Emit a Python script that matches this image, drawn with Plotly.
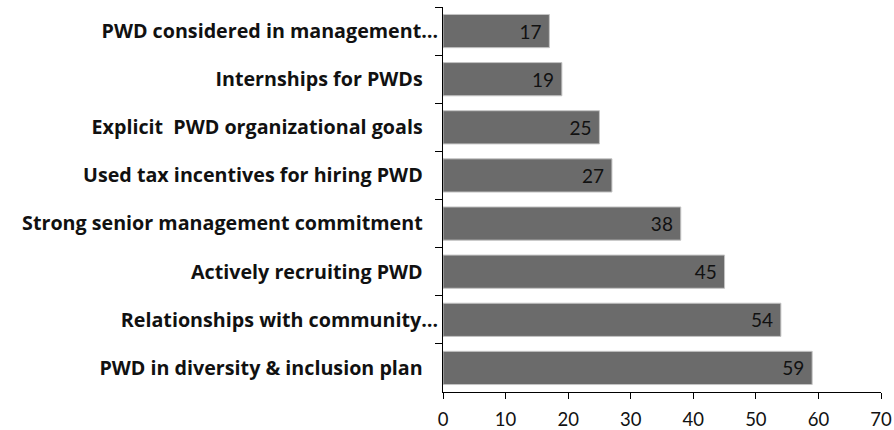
import plotly.graph_objects as go

# Share of employers (%) reporting each practice, listed top to bottom
practices = [
    "PWD considered in management…",
    "Internships for PWDs",
    "Explicit  PWD organizational goals",
    "Used tax incentives for hiring PWD",
    "Strong senior management commitment ",
    "Actively recruiting PWD",
    "Relationships with community…",
    "PWD in diversity & inclusion plan",
]
shares = [17, 19, 25, 27, 38, 45, 54, 59]
x_ticks = [0, 10, 20, 30, 40, 50, 60, 70]

NBSP = "\u00a0"
LABEL_FONT = "Open Sans"
NUMBER_FONT = "Lato"


def pad(label):
    # truncated labels sit flush against the axis, full labels keep a gap
    label = label.rstrip(" ")
    if label.endswith("…"):
        return label
    return label + NBSP * 3


fig = go.Figure(
    go.Bar(
        x=shares,
        y=[pad(p) for p in practices],
        orientation="h",
        marker=dict(color="#6b6b6b", line=dict(color="#c4c4c4", width=1)),
        text=[str(v) + NBSP for v in shares],
        textposition="inside",
        insidetextanchor="end",
        textfont=dict(family=NUMBER_FONT, size=19, color="#111111"),
        cliponaxis=False,
    )
)

fig.update_layout(
    width=894,
    height=430,
    margin=dict(l=443, r=13, t=7, b=38),
    paper_bgcolor="white",
    plot_bgcolor="white",
    bargap=0.31,
    showlegend=False,
    uniformtext=dict(mode="show", minsize=10),
)

fig.update_xaxes(
    range=[0, 70],
    tickvals=x_ticks,
    ticktext=[str(t) for t in x_ticks],
    automargin=False,
    showgrid=False,
    zeroline=False,
    showline=True,
    linecolor="black",
    linewidth=1,
    ticks="outside",
    ticklen=6,
    tickcolor="black",
    ticklabelstandoff=5,
    tickfont=dict(family=NUMBER_FONT, size=18.5, color="#111111"),
)

fig.update_yaxes(
    autorange="reversed",
    automargin=False,
    showgrid=False,
    zeroline=False,
    showline=True,
    linecolor="black",
    linewidth=1,
    ticks="outside",
    ticklen=7,
    tickcolor="black",
    tickson="boundaries",
    tickfont=dict(family=LABEL_FONT, size=19.7, color="#111111", weight="bold"),
)

fig.write_html("out.html")
